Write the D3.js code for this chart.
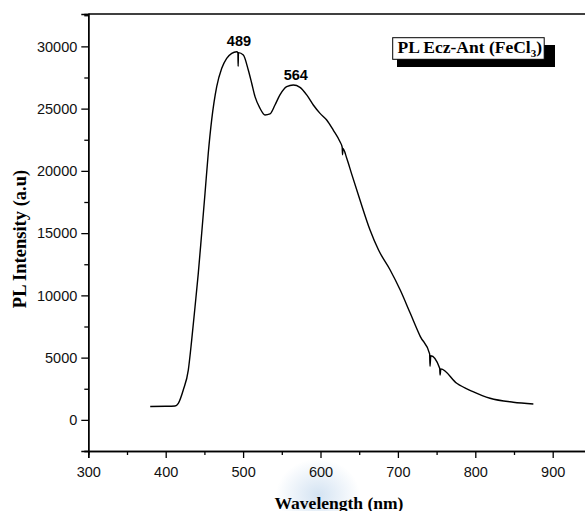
<!DOCTYPE html>
<html>
<head>
<meta charset="utf-8">
<script src="https://cdn.jsdelivr.net/npm/d3@7"></script>
<style>
  html, body { margin: 0; padding: 0; background: #fff; }
  svg { display: block; }
</style>
</head>
<body>
<svg id="chart" width="585" height="511"></svg>
<script>
// spectrum
const wavelength = [380, 400, 412, 416.3, 422.7, 429.2, 433.6, 437.9, 442.1, 446.5, 450.8, 455, 459.4, 465.9,
  472.4, 478.8, 485.3, 491.7, 493.3, 493.6, 494, 500.3, 506.7, 511.1, 515.4, 521.8, 528.3, 534.7, 541.2,
  547.6, 556.3, 564.9, 573.5, 582.2, 590.7, 599.4, 608, 616.5, 625.2, 628, 628.5, 629, 633.9, 640, 651,
  664, 675, 690, 703, 716, 729, 741, 741.5, 742.5, 754, 754.5, 755.5, 776, 797, 819, 849, 875];
const intensity = [1080, 1090, 1110, 1330, 2400, 4000, 6420, 9090, 11770, 14990, 18200, 21410, 24090, 26760,
  28240, 29040, 29440, 29570, 29500, 28400, 29500, 29310, 28100, 27040, 25960, 25030, 24490, 24570, 25290,
  26100, 26760, 26900, 26710, 26100, 25290, 24620, 24090, 23280, 22340, 21900, 21300, 21800, 21010, 19800, 17660,
  15250, 13640, 12040, 10430, 8560, 6690, 5300, 4300, 5150, 4150, 3600, 4100, 2940, 2270, 1740, 1420, 1280];

const xTicks = [300, 400, 500, 600, 700, 800, 900];
const yTicks = [0, 5000, 10000, 15000, 20000, 25000, 30000];
const peakLabels = [ { text: "489", wl: 494.6, val: 30050 }, { text: "564", wl: 568, val: 27300 } ];

const svg = d3.select("#chart");
const mLeft = 88.3, mRight = 591.4, mTop = 14, mBottom = 451;

const x = d3.scaleLinear().domain([300, 950]).range([mLeft, mRight]);
const y = d3.scaleLinear().domain([-2500, 32600]).range([mBottom, mTop]);

// faint watermark at the bottom
const defs = svg.append("defs");
const rg = defs.append("radialGradient").attr("id", "wm");
rg.append("stop").attr("offset", "0%").attr("stop-color", "#c9dcef").attr("stop-opacity", 0.8);
rg.append("stop").attr("offset", "100%").attr("stop-color", "#c9dcef").attr("stop-opacity", 0);
svg.append("ellipse").attr("cx", 318).attr("cy", 495).attr("rx", 42).attr("ry", 36).attr("fill", "url(#wm)");

// axes
const xAxis = d3.axisBottom(x).tickValues(xTicks).tickSize(7).tickPadding(9).tickFormat(d3.format("d"));
const xMinor = d3.axisBottom(x).tickValues(d3.range(350, 950, 100)).tickSize(4).tickFormat("");
const yAxis = d3.axisLeft(y).tickValues(yTicks).tickSize(7).tickPadding(4).tickFormat(d3.format("d"));
const yMinor = d3.axisLeft(y).tickValues(d3.range(-2500, 32600, 5000)).tickSize(4).tickFormat("");

function styleAxis(g) {
  g.select(".domain").attr("stroke", "#000").attr("stroke-width", 1.4);
  g.selectAll(".tick line").attr("stroke", "#000").attr("stroke-width", 1.3);
  g.selectAll(".tick text").style("font-family", "Arial, 'Liberation Sans', sans-serif")
    .style("font-size", "14.5px").attr("fill", "#111");
}

svg.append("g").attr("transform", `translate(0,${mBottom})`).call(xMinor).call(styleAxis);
svg.append("g").attr("transform", `translate(0,${mBottom})`).call(xAxis).call(styleAxis);
svg.append("g").attr("transform", `translate(${mLeft},0)`).call(yMinor).call(styleAxis);
svg.append("g").attr("transform", `translate(${mLeft},0)`).call(yAxis).call(styleAxis);

// top frame line
svg.append("line").attr("x1", mLeft).attr("x2", mRight).attr("y1", mTop).attr("y2", mTop)
  .attr("stroke", "#000").attr("stroke-width", 1.4);

// spectrum line
const pts = wavelength.map((w, i) => [w, intensity[i]]);
const line = d3.line().x(d => x(d[0])).y(d => y(d[1])).curve(d3.curveMonotoneX);
svg.append("path").datum(pts).attr("d", line)
  .attr("fill", "none").attr("stroke", "#000").attr("stroke-width", 1.4).attr("stroke-linejoin", "round");

// peak labels
svg.selectAll(".peak").data(peakLabels).enter().append("text")
  .attr("x", d => x(d.wl)).attr("y", d => y(d.val))
  .attr("text-anchor", "middle")
  .attr("font-family", "Arial, 'Liberation Sans', sans-serif")
  .attr("font-weight", "bold").attr("font-size", "14.5px")
  .text(d => d.text);

// legend box with shadow
svg.append("rect").attr("x", 397).attr("y", 45).attr("width", 158).attr("height", 22).attr("fill", "#000");
svg.append("rect").attr("x", 392.7).attr("y", 37.7).attr("width", 151.5).attr("height", 21.6)
  .attr("fill", "#fff").attr("stroke", "#000").attr("stroke-width", 1);
const lt = svg.append("text").attr("x", 397.5).attr("y", 52.5)
  .attr("font-family", "'Times New Roman', 'Liberation Serif', serif")
  .attr("font-weight", "bold").attr("font-size", "17.5px");
lt.append("tspan").text("PL Ecz-Ant (FeCl");
lt.append("tspan").attr("font-size", "11px").attr("dy", 4).text("3");
lt.append("tspan").attr("dy", -4).text(")");

// axis titles
svg.append("text").attr("x", 339).attr("y", 509).attr("text-anchor", "middle")
  .attr("font-family", "'Times New Roman', 'Liberation Serif', serif")
  .attr("font-weight", "bold").attr("font-size", "17.5px")
  .text("Wavelength (nm)");
svg.append("text").attr("transform", "translate(26,239) rotate(-90)").attr("text-anchor", "middle")
  .attr("font-family", "'Times New Roman', 'Liberation Serif', serif")
  .attr("font-weight", "bold").attr("font-size", "18.5px")
  .text("PL Intensity (a.u)");
</script>
</body>
</html>
